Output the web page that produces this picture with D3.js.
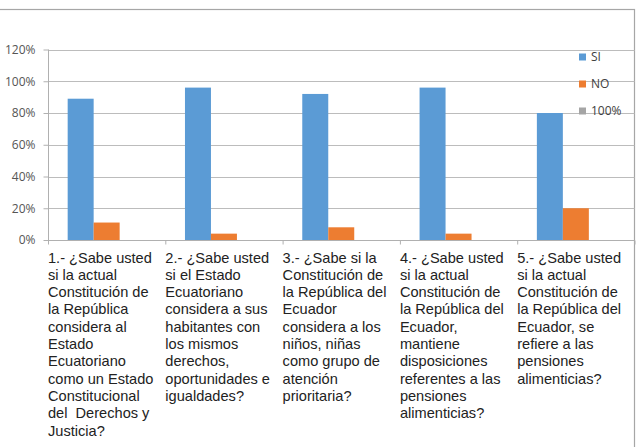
<!DOCTYPE html>
<html><head><meta charset="utf-8">
<script src="https://cdn.jsdelivr.net/npm/d3@7"></script>
<style>html,body{margin:0;padding:0;background:#fff;}svg{display:block;}</style>
</head><body>
<svg id="c" width="640" height="447"></svg>
<script>
const categories = ["Q1","Q2","Q3","Q4","Q5"];
const categoryLabels = [
  ["1.- ¿Sabe usted","si la actual","Constitución de","la República","considera al","Estado","Ecuatoriano","como un Estado","Constitucional","del  Derechos y","Justicia?"],
  ["2.- ¿Sabe usted","si el Estado","Ecuatoriano","considera a sus","habitantes con","los mismos","derechos,","oportunidades e","igualdades?"],
  ["3.- ¿Sabe si la","Constitución de","la República del","Ecuador","considera a los","niños, niñas","como grupo de","atención","prioritaria?"],
  ["4.- ¿Sabe usted","si la actual","Constitución de","la República del","Ecuador,","mantiene","disposiciones","referentes a las","pensiones","alimenticias?"],
  ["5.- ¿Sabe usted","si la actual","Constitución de","la República del","Ecuador, se","refiere a las","pensiones","alimenticias?"]
];
const seriesNames = ["SI","NO","100%"];
const siValues = [0.89, 0.96, 0.92, 0.96, 0.80];
const noValues = [0.11, 0.04, 0.08, 0.04, 0.20];
const pctValues = [null, null, null, null, null];
const yTicks = [0, 0.2, 0.4, 0.6, 0.8, 1.0, 1.2];
const colors = ["#5B9BD5", "#ED7D31", "#A5A5A5"];

(function () {
const svg = d3.select("#c");
const pLeft = 48, pRight = 634.5, pTop = 49.5, pBottom = 240;

// outer border (top and right visible)
svg.append("rect").attr("x", -2).attr("y", 9.5).attr("width", 636.5).attr("height", 450)
  .attr("fill", "none").attr("stroke", "#a6a6a6").attr("stroke-width", 1.2);

const x = d3.scaleBand().domain(categories).range([pLeft, pRight]).paddingInner(0).paddingOuter(0);
const xs = d3.scaleBand().domain(seriesNames).range([0, x.bandwidth()]).paddingInner(0).paddingOuter(0.757);
const y = d3.scaleLinear().domain([0, 1.2]).range([pBottom, pTop]);

// gridlines
svg.append("g").selectAll("line").data(yTicks.filter(d => d > 0)).join("line")
  .attr("x1", pLeft).attr("x2", pRight)
  .attr("y1", d => Math.round(y(d)) + 0.5).attr("y2", d => Math.round(y(d)) + 0.5)
  .attr("stroke", "#bcbcbc").attr("stroke-width", 1);

// y axis
const yAxis = d3.axisLeft(y).tickValues(yTicks).tickFormat(d3.format(".0%")).tickSize(5).tickPadding(8);
const gy = svg.append("g").attr("transform", `translate(${pLeft + 0.5},0)`).call(yAxis);
gy.select(".domain").attr("stroke", "#b0b0b0").attr("d", `M0,${pTop}V${pBottom}`);
gy.selectAll(".tick line").attr("stroke", "#b0b0b0");
gy.selectAll(".tick text").attr("font-family", "Open Sans, Liberation Sans, sans-serif")
  .attr("font-size", "12px").attr("fill", "#555");

// bars
const data = [siValues, noValues, pctValues];
data.forEach((vals, si) => {
  svg.append("g").selectAll("rect").data(vals.map((v, i) => ({v, c: categories[i]})).filter(d => d.v != null))
    .join("rect")
    .attr("x", d => x(d.c) + xs(seriesNames[si]))
    .attr("width", xs.bandwidth())
    .attr("y", d => y(d.v))
    .attr("height", d => y(0) - y(d.v))
    .attr("fill", colors[si]);
});

// x axis
const xAxisG = svg.append("g").attr("transform", `translate(0,${pBottom + 0.5})`);
xAxisG.append("line").attr("x1", pLeft).attr("x2", pRight).attr("stroke", "#b0b0b0");
xAxisG.selectAll("line.tk").data(categories.concat(["end"])).join("line").attr("class", "tk")
  .attr("x1", (d, i) => (i < categories.length ? x(d) : pRight) + 0.5)
  .attr("x2", (d, i) => (i < categories.length ? x(d) : pRight) + 0.5)
  .attr("y1", 0).attr("y2", 4).attr("stroke", "#b0b0b0");

// category labels
categories.forEach((c, i) => {
  const t = svg.append("text").attr("x", x(c)).attr("y", 262.5)
    .attr("font-family", "Liberation Sans, Arial, sans-serif").attr("font-size", "14.6px")
    .attr("fill", "#222").style("white-space", "pre");
  categoryLabels[i].forEach((ln, j) => {
    t.append("tspan").attr("x", x(c)).attr("y", 262.5 + j * 17.33).text(ln);
  });
});

// legend
const lg = svg.append("g");
seriesNames.forEach((s, i) => {
  const cy = 57 + i * 27;
  lg.append("rect").attr("x", 579).attr("y", cy - 3.5).attr("width", 7).attr("height", 7).attr("fill", colors[i]);
  lg.append("text").attr("x", 591).attr("y", cy).attr("dy", "0.35em")
    .attr("font-family", "Open Sans, Liberation Sans, sans-serif").attr("font-size", "12px")
    .attr("fill", "#404040").text(s);
});
})();
</script>
</body></html>
